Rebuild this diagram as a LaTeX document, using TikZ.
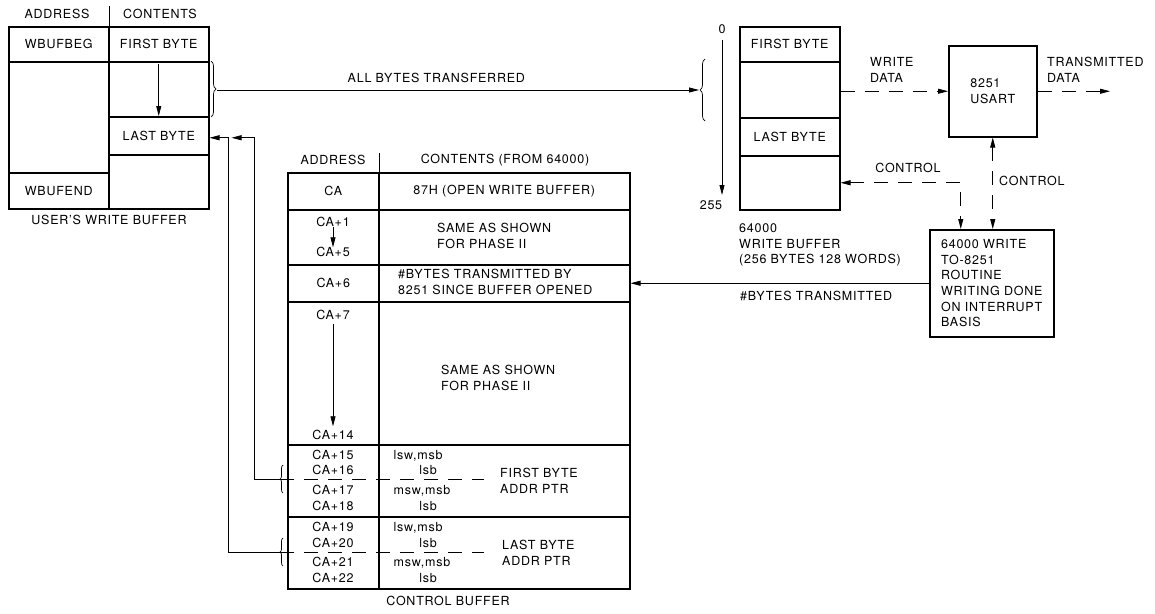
\documentclass[tikz,border=0pt]{standalone}
\usepackage{fontspec}
\setmainfont{TeX Gyre Heros}[LetterSpace=6]
\usetikzlibrary{positioning, calc, arrows.meta, decorations.pathreplacing}

\tikzset{
  cell/.style 2 args={draw, line width=1.5pt, inner sep=0pt, anchor=north west, minimum width=#1, minimum height=#2},
  txt/.style={inner sep=0pt, align=left},
  addr/.style={inner sep=0pt, text height=9pt, text depth=0pt},
  arr/.style={line width=0.8pt, -{Triangle[length=10pt,width=5pt]}},
  darr/.style={arr, dash pattern=on 14pt off 10pt},
  dboth/.style={darr, {Triangle[length=10pt,width=5pt]}-{Triangle[length=10pt,width=5pt]}},
  wire/.style={line width=0.8pt},
  dwire/.style={wire, dash pattern=on 14pt off 10pt},
  brc/.style={line width=0.7pt, decorate, decoration={brace, amplitude=#1}},
}

\begin{document}
\begin{tikzpicture}[x=1pt, y=-1pt, every node/.style={font=\fontsize{12.5}{15.6}\selectfont}]
\useasboundingbox (0,0) rectangle (1155,613);

% user's write buffer
\node (whaddr) at (57,14) {ADDRESS};
\node (whcont) at (160,14) {CONTENTS};
\node[cell={100pt}{35pt}] (wbeg) at (8,26) {WBUFBEG};
\node[cell={100pt}{111pt}] (wleft) at (8,61) {};
\node[cell={100pt}{36pt}] (wend) at (8,172) {WBUFEND};
\node[cell={100pt}{35pt}] (wfirst) at (108,26) {FIRST BYTE};
\node[cell={100pt}{55pt}] (wgap) at (108,61) {};
\node[cell={100pt}{38pt}] (wlast) at (108,116) {LAST BYTE};
\node[cell={100pt}{54pt}] (wrest) at (108,154) {};
\draw[line width=1.5pt] (wbeg.north east) -- ++(0,-20);
\draw[arr] ($(wgap.north)+(0,3)$) -- (wlast.north);
\node (wcap) at (109,220) {USER'S WRITE BUFFER};

% all bytes transferred
\draw[brc=5pt] (211,61) -- (211,117);
\coordinate (wtip) at (217,90);
\draw[brc=5pt] (705,121) -- (705,59);
\coordinate (btip) at (699,90);
\draw[arr] (wtip) -- node[above=4pt, pos=0.455] (allb) {ALL BYTES TRANSFERRED} (btip);

% control buffer
\node (chaddr) at (333,160) {ADDRESS};
\node (chcont) at (505,160) {CONTENTS (FROM 64000)};
\node[cell={91pt}{37pt}] (a1) at (287,172) {CA};
\node[cell={91pt}{55pt}] (a2) at (287,209) {};
\node[cell={91pt}{37pt}] (a3) at (287,264) {CA+6};
\node[cell={91pt}{143pt}] (a4) at (287,301) {};
\node[cell={91pt}{72pt}] (a5) at (287,444) {};
\node[cell={91pt}{72pt}] (a6) at (287,516) {};
\node[cell={251pt}{37pt}] (c1) at (378,172) {87H (OPEN WRITE BUFFER)};
\node[cell={251pt}{55pt}] (c2) at (378,209) {};
\node[cell={251pt}{37pt}] (c3) at (378,264) {};
\node[cell={251pt}{143pt}] (c4) at (378,301) {};
\node[cell={251pt}{72pt}] (c5) at (378,444) {};
\node[cell={251pt}{72pt}] (c6) at (378,516) {};
\draw[line width=1.5pt] (a1.north east) -- ++(0,-19);
\node (ccap) at (448,601) {CONTROL BUFFER};

\node[addr] (ca1) at (333,222) {CA+1};
\node[addr] (ca5) at (333,252) {CA+5};
\draw[arr] (ca1.south) -- (ca5.north);
\node[addr] (ca7) at (333,315) {CA+7};
\node[addr] (ca14) at (333,435) {CA+14};
\draw[arr] ($(ca7.south)+(0,4)$) -- ($(ca14.north)+(0,-4)$);
\node[addr] (ca15) at (333,455) {CA+15};
\node[addr] (ca16) at (333,470) {CA+16};
\node[addr] (ca17) at (333,490) {CA+17};
\node[addr] (ca18) at (333,506) {CA+18};
\node[addr] (ca19) at (333,527) {CA+19};
\node[addr] (ca20) at (333,543) {CA+20};
\node[addr] (ca21) at (333,562) {CA+21};
\node[addr] (ca22) at (333,578) {CA+22};

\node[txt, anchor=west] (same1) at (437,236) {SAME AS SHOWN\\FOR PHASE II};
\node[txt, anchor=west] (nbytes) at (398,282) {\#BYTES TRANSMITTED BY\\8251 SINCE BUFFER OPENED};
\node[txt, anchor=west] (same2) at (441,378) {SAME AS SHOWN\\FOR PHASE II};

\node[addr] (fmsb1) at (418,455) {lsw,msb};
\node[addr] (flsb1) at (428,470) {lsb};
\node[addr] (fmsb2) at (422,490) {msw,msb};
\node[addr] (flsb2) at (428,506) {lsb};
\node[txt, anchor=west] (fptr) at (500,481) {FIRST BYTE\\ADDR PTR};
\node[addr] (lmsb1) at (418,527) {lsw,msb};
\node[addr] (llsb1) at (428,543) {lsb};
\node[addr] (lmsb2) at (422,562) {msw,msb};
\node[addr] (llsb2) at (428,578) {lsb};
\node[txt, anchor=west] (lptr) at (502,553) {LAST BYTE\\ADDR PTR};

% pointers back to the user's buffer
\draw[brc=3pt] (283,493) -- (283,465);
\coordinate (fpin) at (280,479);
\coordinate (fend) at (484,479);
\draw[dwire] (fpin) -- (fend);
\draw[brc=3pt] (283,566) -- (283,538);
\coordinate (lpin) at (280,552);
\coordinate (lend) at (484,552);
\draw[dwire] (lpin) -- (lend);
\draw[arr] (fpin) -- ++(-26,0) |- ($(wlast.east)+(22,2)$);
\draw[arr] (lpin) -- ++(-52,0) |- ($(wlast.east)+(0,2)$);

% 64000 write buffer
\node[cell={100pt}{35pt}] (b1) at (739,26) {FIRST BYTE};
\node[cell={100pt}{56pt}] (b2) at (739,61) {};
\node[cell={100pt}{38pt}] (b3) at (739,117) {LAST BYTE};
\node[cell={100pt}{54pt}] (b4) at (739,155) {};
\node[addr] (n0) at (722,29) {0};
\node[addr] (n255) at (711,205) {255};
\draw[arr] ($(n0)+(0,11)$) -- ($(n0)+(0,166)$);
\node[txt, anchor=west] (bcap) at (739,245) {64000\\WRITE BUFFER\\(256 BYTES 128 WORDS)};

% usart and routine
\node[cell={88pt}{91pt}, align=left] (usart) at (948,45) {8251\\USART};
\node[cell={124pt}{107pt}, align=left] (routine) at (929,229) {64000 WRITE\\TO-8251\\ROUTINE\\WRITING DONE\\ON INTERRUPT\\BASIS};

\draw[darr] (usart.west -| b2.east) -- (usart.west);
\node[txt, anchor=west] (wdata) at (870,70) {WRITE\\DATA};
\coordinate (txout) at (1110,91);
\draw[darr] (usart.east) -- (usart.east -| txout);
\node[txt, anchor=west] (txdata) at (1047,70) {TRANSMITTED\\DATA};

\draw[dboth] (b4.east) -| ($(routine.north)+(-31,0)$);
\node (ctl1) at (908,168) {CONTROL};
\draw[dboth] (usart.south) -- (usart.south |- routine.north);
\node[anchor=west, inner sep=0pt] (ctl2) at (999,181) {CONTROL};

\draw[arr] (routine.west) -- (c3.east);
\node[txt, anchor=west] (nbt) at (740,296) {\#BYTES TRANSMITTED};
\end{tikzpicture}
\end{document}
